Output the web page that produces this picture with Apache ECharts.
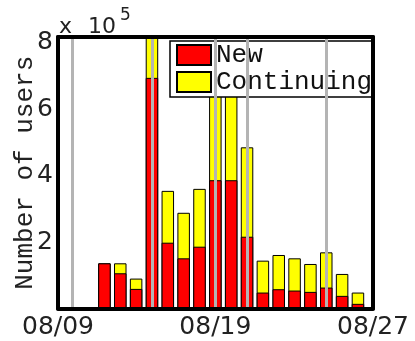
<!DOCTYPE html>
<html><head><meta charset="utf-8">
<script src="https://cdn.jsdelivr.net/npm/echarts@6/dist/echarts.min.js"></script>
<style>html,body{margin:0;padding:0;background:#fff}#c{width:415px;height:341px}</style>
</head><body><div id="c"></div>
<script>
// bar positions (day index), 1..17
const positions = [1,2,3,4,5,6,7,8,9,10,11,12,13,14,15,16,17];
// values in units of 10^5 users
const newUsers =        [1.36,1.06,0.59,6.94,1.98,1.51,1.86,3.86,3.86,2.16,0.48,0.58,0.54,0.50,0.63,0.38,0.14];
const continuingUsers = [0.00,0.30,0.31,1.66,1.56,1.37,1.74,3.64,3.44,2.69,0.96,1.03,0.97,0.84,1.06,0.66,0.34];
const eventLines = [-1,4,8,10,15];
const xMin = -1.93, xMax = 17.95;
const xTickValues = [xMin, 8, xMax];
const xTickLabels = ['08/09','08/19','08/27'];
const yTicks = [2,4,6,8];
const yMax = 8.17;

// stacked top of each bar = new + continuing (drawn behind the "New" part)
const totals = newUsers.map((v,i)=>v+continuingUsers[i]);

const chart = echarts.init(document.getElementById('c'));
const tickFont = {fontFamily:'DejaVu Sans', fontSize:25, color:'#222'};
const frameLine = {show:true, onZero:false, lineStyle:{color:'#000', width:4}};
chart.setOption({
  animation:false,
  grid:{left:58, right:42, top:37, bottom:32.5, outerBoundsMode:'none', containLabel:false},
  legend:{
    orient:'vertical', left:170, top:41, padding:[1,0,2,6], itemGap:1,
    itemWidth:34, itemHeight:20, icon:'rect',
    backgroundColor:'#fff', borderColor:'#000', borderWidth:1.5,
    textStyle:{fontFamily:'Liberation Mono', fontSize:26, color:'#111'},
    data:['New','Continuing']
  },
  xAxis:[
    {type:'value', min:xMin, max:xMax, position:'bottom', z:10,
     axisLine:frameLine, axisTick:{show:false}, splitLine:{show:false},
     axisLabel:Object.assign({customValues:xTickValues, margin:6,
       formatter:function(v){let bi=0;for(let i=0;i<xTickValues.length;i++){if(Math.abs(xTickValues[i]-v)<Math.abs(xTickValues[bi]-v))bi=i;}return xTickLabels[bi];}}, tickFont)},
    {type:'value', min:xMin, max:xMax, position:'top', z:10,
     axisLine:frameLine, axisTick:{show:false}, splitLine:{show:false}, axisLabel:{show:false}}
  ],
  yAxis:[
    {type:'value', min:0, max:yMax, position:'left', z:10,
     axisLine:frameLine, axisTick:{show:false}, splitLine:{show:false},
     axisLabel:Object.assign({customValues:yTicks, margin:5, padding:[10,0,0,0]}, tickFont),
     name:'Number of users', nameLocation:'middle', nameGap:20, nameMoveOverlap:false,
     nameTextStyle:{fontFamily:'Liberation Mono', fontSize:26, color:'#222'}},
    {type:'value', min:0, max:yMax, position:'right', z:10,
     axisLine:frameLine, axisTick:{show:false}, splitLine:{show:false}, axisLabel:{show:false}}
  ],
  graphic:[
    {type:'text', left:59, top:16, style:{text:'x', font:'22px "DejaVu Sans"', fill:'#222'}},
    {type:'text', left:88, top:16, style:{text:'10', font:'22px "DejaVu Sans"', fill:'#222'}},
    {type:'text', left:120, top:7, style:{text:'5', font:'17px "DejaVu Sans"', fill:'#222'}}
  ],
  series:[
    {name:'Continuing', type:'bar', barWidth:12.5, barGap:'-100%', z:2,
     itemStyle:{color:'#ffff00', borderColor:'#000', borderWidth:1},
     data:positions.map((p,i)=>[p,totals[i]])},
    {name:'New', type:'bar', barWidth:12.5, barGap:'-100%', z:3,
     itemStyle:{color:'#ff0000', borderColor:'#000', borderWidth:1},
     data:positions.map((p,i)=>[p,newUsers[i]]),
     markLine:{symbol:'none', silent:true, label:{show:false},
       lineStyle:{color:'#b4b4b4', width:3, type:'solid'},
       data:eventLines.map(x=>({xAxis:x}))}}
  ]
});
</script></body></html>
